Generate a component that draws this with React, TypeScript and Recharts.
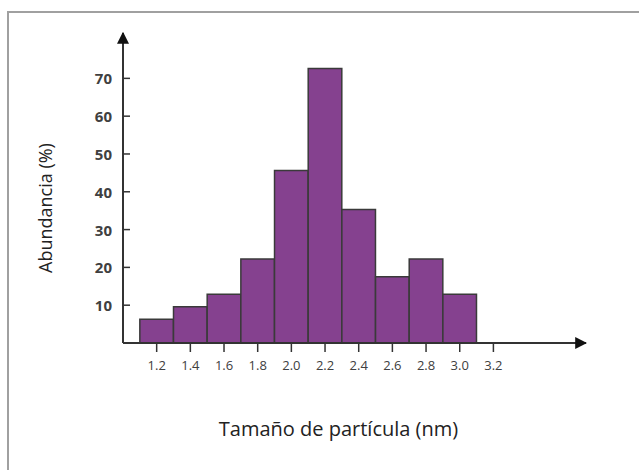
import { ComposedChart, Bar, XAxis, YAxis } from "recharts";

const binCenters = [1.2, 1.4, 1.6, 1.8, 2.0, 2.2, 2.4, 2.6, 2.8, 3.0];
const abundance = [6.3, 9.6, 12.9, 22.2, 45.6, 72.6, 35.3, 17.5, 22.2, 12.9];
const xTicks = [1.2, 1.4, 1.6, 1.8, 2.0, 2.2, 2.4, 2.6, 2.8, 3.0, 3.2];
const yTicks = [10, 20, 30, 40, 50, 60, 70];

const data = binCenters.map((x, i) => ({ x, value: abundance[i] }));

const axisColor = "#333";
const labelColor = "#404040";
const font = "'Open Sans', 'Liberation Sans', sans-serif";

const YTick = (props: any) => {
  const { x, y, payload } = props;
  const axisX = x + 11;
  return (
    <g>
      <line x1={axisX} y1={y} x2={axisX + 7} y2={y} stroke={axisColor} strokeWidth={1.5} />
      <text
        x={x}
        y={y}
        textAnchor="end"
        dominantBaseline="central"
        fill={labelColor}
        fontSize={15}
        fontWeight="bold"
        fontFamily={font}
      >
        {payload.value}
      </text>
    </g>
  );
};

const YLabel = (props: any) => {
  const { viewBox } = props;
  const cx = viewBox.x + 45;
  const cy = viewBox.y + viewBox.height / 2 + 20;
  return (
    <text
      x={cx}
      y={cy}
      transform={`rotate(-90, ${cx}, ${cy})`}
      textAnchor="middle"
      dominantBaseline="central"
      fill="#222"
      fontSize={18}
      fontFamily={font}
    >
      Abundancia (%)
    </text>
  );
};

const XLabel = (props: any) => {
  const { viewBox } = props;
  return (
    <text
      x={viewBox.x + viewBox.width / 2 - 16}
      y={viewBox.y + 85}
      textAnchor="middle"
      dominantBaseline="central"
      fill="#222"
      fontSize={20}
      fontFamily={font}
    >
      Tamaño de partícula (nm)
    </text>
  );
};

export default function App() {
  return (
    <div style={{ position: "absolute", left: 0, top: 0, width: 639, height: 470, background: "#fff", overflow: "hidden" }}>
      <div
        style={{
          position: "absolute",
          left: 7,
          top: 11,
          width: 700,
          height: 500,
          borderTop: "2px solid #a0a0a0",
          borderLeft: "2px solid #a0a0a0",
        }}
      />
      <svg width={0} height={0} style={{ position: "absolute" }}>
        <defs>
          <marker id="arrowHead" viewBox="0 0 10 10" refX="9" refY="5" markerWidth="6" markerHeight="6" markerUnits="strokeWidth" orient="auto-start-reverse">
            <path d="M0,0 L10,5 L0,10 z" fill="#111" />
          </marker>
        </defs>
      </svg>
      <div style={{ position: "absolute", left: 0, top: 0 }}>
        <ComposedChart
          width={639}
          height={470}
          data={data}
          barCategoryGap={0}
          barGap={0}
          margin={{ top: 33, right: 53, bottom: 0, left: 0 }}
        >
          <XAxis
            dataKey="x"
            type="number"
            domain={[1.0, 3.75]}
            ticks={xTicks}
            allowDataOverflow
            height={127}
            interval={0}
            tickFormatter={(v: number) => v.toFixed(1)}
            tickSize={9}
            tickMargin={9}
            tick={{ fill: labelColor, fontSize: 13, fontFamily: font }}
            tickLine={{ stroke: axisColor, strokeWidth: 1.5 }}
            axisLine={{ stroke: axisColor, strokeWidth: 2, markerEnd: "url(#arrowHead)" }}
            label={<XLabel />}
          />
          <YAxis
            type="number"
            domain={[0, 82]}
            ticks={yTicks}
            width={123}
            tickSize={6}
            tickMargin={5}
            tickLine={false}
            tick={<YTick />}
            axisLine={{ stroke: axisColor, strokeWidth: 2, markerStart: "url(#arrowHead)" }}
            label={<YLabel />}
          />
          <Bar dataKey="value" barSize={33.6} fill="#85418F" stroke="#3a3a3a" strokeWidth={1.5} isAnimationActive={false} />
        </ComposedChart>
      </div>
    </div>
  );
}
